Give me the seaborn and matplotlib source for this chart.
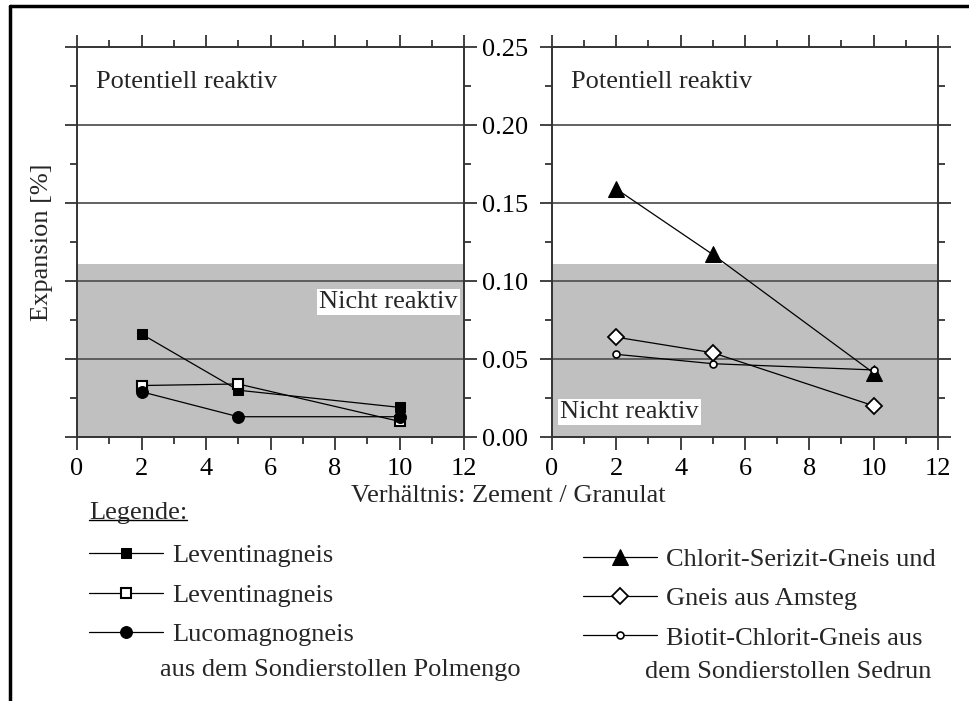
import numpy as np
import pandas as pd
import matplotlib
matplotlib.use("Agg")
import matplotlib.pyplot as plt
from matplotlib.lines import Line2D
from matplotlib.ticker import MultipleLocator
import seaborn as sns

# data
ratio = [2, 5, 10]

# Polmengo (left panel)
lev_a = [0.066, 0.030, 0.019]
lev_b = [0.033, 0.034, 0.010]
lucomagno = [0.029, 0.013, 0.013]

# Sedrun (right panel)
chlorit = [0.159, 0.117, 0.041]
amsteg = [0.064, 0.054, 0.020]
biotit = [0.053, 0.047, 0.043]

threshold = 0.111
grid_levels = [0.05, 0.10, 0.15, 0.20]

left_labels = ["Leventinagneis", "Leventinagneis", "Lucomagnogneis"]
right_labels = ["Chlorit-Serizit-Gneis und", "Gneis aus Amsteg", "Biotit-Chlorit-Gneis aus"]

sns.set_theme(style="ticks")
plt.rcParams["font.family"] = ["Liberation Serif", "DejaVu Serif"]
FS = 19

fig = plt.figure(figsize=(9.7, 7.01), dpi=100)
ax1 = fig.add_axes([0.0794, 0.3766, 0.399, 0.5563])
ax2 = fig.add_axes([0.569, 0.3766, 0.398, 0.5563])

left_series = [
    (lev_a, dict(marker="s", markersize=7, markerfacecolor="black", markeredgecolor="black")),
    (lev_b, dict(marker="s", markersize=7.5, markerfacecolor="white", markeredgecolor="black", markeredgewidth=1.5)),
    (lucomagno, dict(marker="o", markersize=8.5, markerfacecolor="black", markeredgecolor="black")),
]
right_series = [
    (chlorit, dict(marker="^", markersize=11, markerfacecolor="black", markeredgecolor="black")),
    (amsteg, dict(marker="D", markersize=8.5, markerfacecolor="white", markeredgecolor="black", markeredgewidth=1.3)),
    (biotit, dict(marker="o", markersize=5, markerfacecolor="white", markeredgecolor="black", markeredgewidth=1.2)),
]

for ax, series in [(ax1, left_series), (ax2, right_series)]:
    ax.axhspan(0, threshold, color="#c0c0c0", lw=0, zorder=0)
    for g in grid_levels:
        ax.axhline(g, color="#555555", lw=1.3, zorder=1)
    for vals, style in series:
        sns.lineplot(x=ratio, y=vals, ax=ax, color="black", linewidth=0.9, zorder=3, **style)
    ax.set_xlim(0, 12)
    ax.set_ylim(0, 0.25)
    ax.xaxis.set_major_locator(MultipleLocator(2))
    ax.xaxis.set_minor_locator(MultipleLocator(1))
    ax.yaxis.set_major_locator(MultipleLocator(0.05))
    ax.yaxis.set_minor_locator(MultipleLocator(0.025))
    ax.tick_params(which="both", direction="out", top=True, right=True, left=True, bottom=True,
                   color="#222222", width=1.2, labelsize=FS, labelcolor="black")
    ax.tick_params(which="major", length=9)
    ax.tick_params(which="minor", length=5)
    for sp in ax.spines.values():
        sp.set_color("#333333")
        sp.set_linewidth(1.4)
    ax.set_xlabel("")
    ax.set_ylabel("")

ax1.tick_params(axis="y", labelleft=False, labelright=True, pad=4)
ax1.yaxis.set_major_formatter(plt.FuncFormatter(lambda v, p: f"{v:.2f}"))
ax2.tick_params(axis="y", labelleft=False, labelright=False)
ax1.tick_params(axis="x", pad=6)
ax2.tick_params(axis="x", pad=6)

ax1.set_ylabel("Expansion [%]", fontsize=FS, labelpad=8)

txt_box = dict(facecolor="white", edgecolor="none", pad=1.5)
ax1.text(0.6, 0.2275, "Potentiell reaktiv", fontsize=FS, va="center", ha="left")
ax2.text(0.6, 0.2275, "Potentiell reaktiv", fontsize=FS, va="center", ha="left")
ax1.text(11.8, 0.0865, "Nicht reaktiv", fontsize=FS, va="center", ha="right", bbox=txt_box, zorder=4)
ax2.text(0.25, 0.016, "Nicht reaktiv", fontsize=FS, va="center", ha="left", bbox=txt_box, zorder=4)

fig.text(0.524, 0.2925, "Verhältnis: Zement / Granulat", fontsize=FS, ha="center", va="center")

# legends
left_handles = [l for l in ax1.get_lines() if l.get_marker() not in ("None", None, "")][:3]
right_handles = [l for l in ax2.get_lines() if l.get_marker() not in ("None", None, "")][:3]
fig.legend(left_handles, left_labels, loc="upper left", bbox_to_anchor=(0.092, 0.224),
           frameon=False, fontsize=FS, handlelength=2.8, handletextpad=0.35,
           labelspacing=0.6, borderpad=0, borderaxespad=0)
fig.legend(right_handles, right_labels, loc="upper left", bbox_to_anchor=(0.601, 0.219),
           frameon=False, fontsize=FS, handlelength=2.8, handletextpad=0.35,
           labelspacing=0.6, borderpad=0, borderaxespad=0)

fig.text(0.165, 0.044, "aus dem Sondierstollen Polmengo", fontsize=FS, ha="left", va="center")
fig.text(0.665, 0.041, "dem Sondierstollen Sedrun", fontsize=FS, ha="left", va="center")

leg_title = fig.text(0.092, 0.268, "Legende:", fontsize=FS, ha="left", va="center")
fig.canvas.draw()
bb = leg_title.get_window_extent(fig.canvas.get_renderer()).transformed(fig.transFigure.inverted())
fig.add_artist(Line2D([bb.x0, bb.x1], [bb.y0 + 0.006, bb.y0 + 0.006], color="black", lw=1.0))

# outer frame (top and left edges visible)
fig.add_artist(Line2D([0.0103, 1.0], [0.9914, 0.9914], color="black", lw=2.5))
fig.add_artist(Line2D([0.0103, 0.0103], [0.0, 0.9914], color="black", lw=2.5))

fig.savefig("out.png", dpi=100)
